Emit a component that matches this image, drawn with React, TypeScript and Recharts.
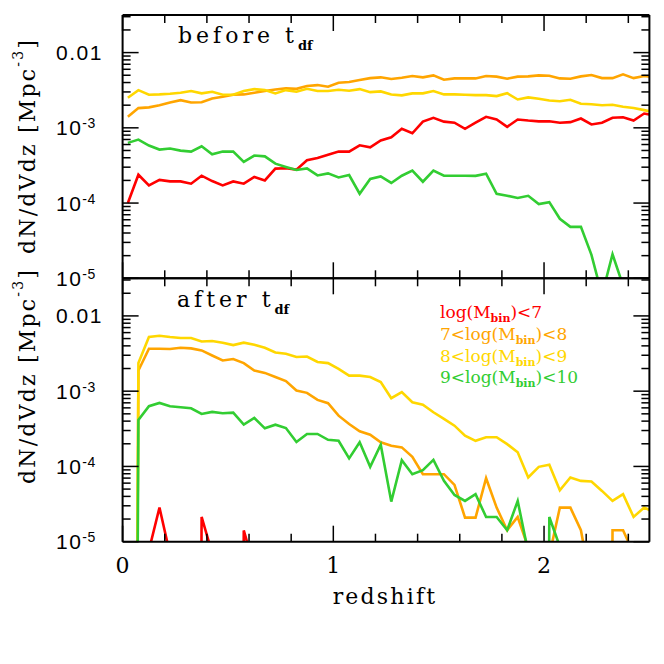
import React from 'react';
import { LineChart, Line, XAxis, YAxis } from 'recharts';

// log axis cannot hold 0, so empty bins use a tiny stand-in value
const ZERO = 1e-30;

const redshift = [
  0.025, 0.075, 0.125, 0.175, 0.225, 0.275, 0.325, 0.375, 0.425, 0.475,
  0.525, 0.575, 0.625, 0.675, 0.725, 0.775, 0.825, 0.875, 0.925, 0.975,
  1.025, 1.075, 1.125, 1.175, 1.225, 1.275, 1.325, 1.375, 1.425, 1.475,
  1.525, 1.575, 1.625, 1.675, 1.725, 1.775, 1.825, 1.875, 1.925, 1.975,
  2.025, 2.075, 2.125, 2.175, 2.225, 2.275, 2.325, 2.375, 2.425, 2.475, 2.525,
];

// before t_df
const beforeRed = [
  1.0e-4, 2.38e-4, 1.72e-4, 2.03e-4, 1.94e-4, 1.94e-4, 1.81e-4, 2.31e-4, 1.96e-4, 1.72e-4,
  1.94e-4, 1.81e-4, 2.22e-4, 2.0e-4, 2.87e-4, 2.9e-4, 2.78e-4, 3.7e-4, 3.98e-4, 4.4e-4,
  4.83e-4, 4.83e-4, 5.86e-4, 5.51e-4, 6.78e-4, 7.5e-4, 9.7e-4, 8.47e-4, 1.21e-3, 1.36e-3,
  1.21e-3, 1.17e-3, 9.7e-4, 1.17e-3, 1.4e-3, 1.29e-3, 1.03e-3, 1.29e-3, 1.25e-3, 1.22e-3,
  1.22e-3, 1.17e-3, 1.19e-3, 1.33e-3, 1.11e-3, 1.17e-3, 1.36e-3, 1.38e-3, 1.25e-3, 1.55e-3, 1.46e-3,
];
const beforeOrange = [
  1.4e-3, 1.83e-3, 1.87e-3, 2.0e-3, 2.17e-3, 2.33e-3, 2.17e-3, 2.19e-3, 2.46e-3, 2.59e-3,
  2.75e-3, 2.78e-3, 2.93e-3, 3.08e-3, 3.24e-3, 3.34e-3, 3.3e-3, 3.59e-3, 3.7e-3, 3.52e-3,
  3.98e-3, 4.06e-3, 4.31e-3, 4.58e-3, 4.69e-3, 4.45e-3, 4.64e-3, 4.88e-3, 4.69e-3, 4.98e-3,
  4.36e-3, 4.54e-3, 4.54e-3, 4.54e-3, 4.88e-3, 4.79e-3, 4.5e-3, 4.79e-3, 4.83e-3, 4.98e-3,
  4.93e-3, 4.54e-3, 4.5e-3, 4.83e-3, 5.03e-3, 4.58e-3, 4.58e-3, 5.14e-3, 4.58e-3, 4.88e-3, 4.73e-3,
];
const beforeYellow = [
  2.51e-3, 3.17e-3, 2.75e-3, 2.78e-3, 2.84e-3, 2.93e-3, 3.08e-3, 2.87e-3, 3.02e-3, 2.75e-3,
  2.75e-3, 3.08e-3, 3.27e-3, 3.17e-3, 2.87e-3, 3.17e-3, 3.02e-3, 3.31e-3, 3.08e-3, 3.08e-3,
  3.21e-3, 3.11e-3, 3.27e-3, 2.98e-3, 3.05e-3, 2.78e-3, 2.7e-3, 2.87e-3, 2.87e-3, 3.08e-3,
  2.78e-3, 2.78e-3, 2.75e-3, 2.72e-3, 2.72e-3, 2.64e-3, 2.89e-3, 2.38e-3, 2.54e-3, 2.44e-3,
  2.31e-3, 2.26e-3, 2.36e-3, 2.09e-3, 2.06e-3, 2.0e-3, 2.03e-3, 1.91e-3, 1.83e-3, 1.72e-3, 1.6e-3,
];
const beforeGreen = [
  6.31e-4, 6.98e-4, 5.81e-4, 5.14e-4, 5.3e-4, 4.98e-4, 4.83e-4, 5.69e-4, 4.45e-4, 4.83e-4,
  4.83e-4, 3.52e-4, 4.28e-4, 4.18e-4, 3.34e-4, 3.02e-4, 2.75e-4, 2.89e-4, 2.33e-4, 2.48e-4,
  2.19e-4, 2.36e-4, 1.33e-4, 2.09e-4, 2.26e-4, 1.85e-4, 2.31e-4, 2.7e-4, 1.92e-4, 2.7e-4,
  2.31e-4, 2.31e-4, 2.31e-4, 2.3e-4, 2.46e-4, 1.33e-4, 1.25e-4, 1.17e-4, 1.25e-4, 9.7e-5,
  1.03e-4, 6.18e-5, 4.83e-5, 4.83e-5, 2.05e-5, 6e-6, 2.09e-5, 8e-6, null, null, null,
];

// after t_df
const afterRed = [
  null, null, 7.7e-6, 2.84e-5, 6.8e-6, null, ZERO, 2.13e-5, 7e-6, null,
  ZERO, 1.41e-5, 4.6e-6, null, null, null, null, null, null, null,
  null, null, null, null, null, null, null, null, null, null,
  null, null, null, null, null, null, null, null, null, null,
  null, null, null, null, null, null, null, null, null, null, null,
];
const afterOrange = [
  ZERO, 1.88e-3, 3.66e-3, 3.66e-3, 3.63e-3, 3.78e-3, 3.7e-3, 3.48e-3, 2.98e-3, 2.56e-3,
  2.67e-3, 2.36e-3, 1.88e-3, 1.75e-3, 1.54e-3, 1.36e-3, 1.02e-3, 9.5e-4, 7.66e-4, 6.92e-4,
  4.73e-4, 3.66e-4, 2.93e-4, 2.64e-4, 2.09e-4, 1.88e-4, 1.79e-4, 1.34e-4, 7.89e-5, 7.89e-5,
  7.89e-5, 5.69e-5, 2.09e-5, 2.09e-5, 6.98e-5, 2.84e-5, 1.42e-5, 2.13e-5, 8.3e-6, 5e-6,
  6.5e-6, 2.84e-5, 2.84e-5, 1.42e-5, 2.5e-6, ZERO, 1.42e-5, 1.42e-5, 7e-6, null, null,
];
const afterYellow = [
  ZERO, 2.36e-3, 5.25e-3, 5.46e-3, 5.25e-3, 5.09e-3, 5.09e-3, 4.58e-3, 4.64e-3, 4.41e-3,
  4.1e-3, 4.41e-3, 4.14e-3, 3.78e-3, 3.27e-3, 3.14e-3, 2.84e-3, 2.89e-3, 2.44e-3, 2.36e-3,
  1.98e-3, 1.61e-3, 1.61e-3, 1.54e-3, 1.32e-3, 8.07e-4, 9.7e-4, 7.13e-4, 6.62e-4, 5.25e-4,
  4.28e-4, 3.48e-4, 2.56e-4, 2.19e-4, 2.44e-4, 2.44e-4, 1.98e-4, 1.54e-4, 7.13e-5, 9.88e-5,
  1.05e-4, 4.83e-5, 7.13e-5, 6.43e-5, 6.31e-5, 4.73e-5, 3.48e-5, 4.28e-5, 2.13e-5, 2.84e-5, 2.45e-5,
];
const afterGreen = [
  ZERO, 4.14e-4, 6.31e-4, 6.98e-4, 6.31e-4, 6.12e-4, 5.93e-4, 4.98e-4, 5.3e-4, 5.09e-4,
  5.19e-4, 3.59e-4, 4.4e-4, 3.21e-4, 3.59e-4, 3.24e-4, 2.11e-4, 2.7e-4, 2.7e-4, 2.26e-4,
  2.19e-4, 1.28e-4, 2.09e-4, 9.88e-5, 1.94e-4, 3.41e-5, 1.21e-4, 7.89e-5, 8.93e-5, 1.22e-4,
  6.43e-5, 4.18e-5, 3.48e-5, 4.28e-5, 2.13e-5, 2.13e-5, 1.42e-5, 3.48e-5, 7.2e-6, ZERO,
  2.13e-5, 8.6e-6, null, null, null, null, null, null, null, null, null,
];

const seriesKeys = ['red', 'orange', 'yellow', 'green'];
const seriesColors = ['#ff0000', '#ffa500', '#ffd700', '#32cd32'];
const legendPrefix = ['', '7<', '8<', '9<'];
const legendSuffix = ['<7', '<8', '<9', '<10'];

const xTicks = [0, 0.2, 0.4, 0.6, 0.8, 1, 1.2, 1.4, 1.6, 1.8, 2, 2.2, 2.4];
const xLabelValues = [0, 1, 2];
const yTicks = [
  1e-5, 2e-5, 3e-5, 4e-5, 5e-5, 6e-5, 7e-5, 8e-5, 9e-5,
  1e-4, 2e-4, 3e-4, 4e-4, 5e-4, 6e-4, 7e-4, 8e-4, 9e-4,
  1e-3, 2e-3, 3e-3, 4e-3, 5e-3, 6e-3, 7e-3, 8e-3, 9e-3,
  1e-2, 2e-2, 3e-2,
];
const yLabelValues = [1e-5, 1e-4, 1e-3, 1e-2];
const yLabelBase = ['10', '10', '10', '0.01'];
const yLabelExp = ['-5', '-4', '-3', ''];

const X_DOMAIN = [0, 2.5];
const Y_DOMAIN = [1e-5, 0.0316];

const beforeRows = redshift.map((z, i) => ({
  z, red: beforeRed[i], orange: beforeOrange[i], yellow: beforeYellow[i], green: beforeGreen[i],
}));
const afterRows = redshift.map((z, i) => ({
  z, red: afterRed[i], orange: afterOrange[i], yellow: afterYellow[i], green: afterGreen[i],
}));

const serif = 'DejaVu Serif';
const sans = 'Liberation Sans';

const XTick = (props: any) => {
  const { x, y, payload, side, labels } = props;
  const major = xLabelValues.includes(payload.value);
  const len = major ? 16 : 8;
  const dir = side === 'top' ? 1 : -1;
  return (
    <g>
      <line x1={x} x2={x} y1={y} y2={y + dir * len} stroke="#000" strokeWidth={1.5} />
      {labels && major && (
        <text x={x} y={y + 31} textAnchor="middle" fontFamily={serif} fontSize={22} fill="#000">
          {payload.value}
        </text>
      )}
    </g>
  );
};

const YTick = (props: any) => {
  const { x, y, payload, side } = props;
  const i = yLabelValues.indexOf(payload.value);
  const major = i >= 0;
  const len = major ? 16 : 8;
  const dir = side === 'left' ? 1 : -1;
  return (
    <g>
      <line x1={x} x2={x + dir * len} y1={y} y2={y} stroke="#000" strokeWidth={1.5} />
      {side === 'left' && major && (
        <text x={56} y={y + 7.5} fontFamily={sans} fontSize={21} letterSpacing={1.5} fill="#000">
          {yLabelBase[i]}
          {yLabelExp[i] && (
            <tspan fontSize={14} dy={-7} letterSpacing={0.5}>{yLabelExp[i]}</tspan>
          )}
        </text>
      )}
    </g>
  );
};

const axisLine = { stroke: '#000', strokeWidth: 2 };

// axes get 1px of room each (a 0px axis is not drawn), the margins take it back
const Panel = ({ rows, top, height, marginTop, marginBottom, xLabels }: any) => (
  <div style={{ position: 'absolute', left: 0, top }}>
    <LineChart
      width={664}
      height={height}
      data={rows}
      margin={{ top: marginTop - 1, right: 13.6, bottom: marginBottom - 1, left: 121.6 }}
    >
      <XAxis
        xAxisId="b" dataKey="z" type="number" domain={X_DOMAIN} allowDataOverflow
        ticks={xTicks} interval={0} height={1} tickSize={0} tickMargin={0}
        tickLine={false} axisLine={axisLine}
        tick={(p: any) => <XTick {...p} side="bottom" labels={xLabels} />}
      />
      <XAxis
        xAxisId="t" orientation="top" dataKey="z" type="number" domain={X_DOMAIN} allowDataOverflow
        ticks={xTicks} interval={0} height={1} tickSize={0} tickMargin={0}
        tickLine={false} axisLine={axisLine}
        tick={(p: any) => <XTick {...p} side="top" labels={false} />}
      />
      <YAxis
        yAxisId="l" type="number" scale="log" domain={Y_DOMAIN} allowDataOverflow
        ticks={yTicks} interval={0} width={1} tickSize={0} tickMargin={0}
        tickLine={false} axisLine={axisLine}
        tick={(p: any) => <YTick {...p} side="left" />}
      />
      <YAxis
        yAxisId="r" orientation="right" type="number" scale="log" domain={Y_DOMAIN} allowDataOverflow
        ticks={yTicks} interval={0} width={1} tickSize={0} tickMargin={0}
        tickLine={false} axisLine={axisLine}
        tick={(p: any) => <YTick {...p} side="right" />}
      />
      {seriesKeys.map((k, i) => (
        <Line
          key={k}
          xAxisId="b"
          yAxisId="l"
          dataKey={k}
          stroke={seriesColors[i]}
          strokeWidth={2.6}
          dot={false}
          activeDot={false}
          connectNulls={false}
          isAnimationActive={false}
        />
      ))}
    </LineChart>
  </div>
);

const YTitle = ({ cx, cy }: { cx: number; cy: number }) => (
  <text
    x={cx} y={cy} transform={`rotate(-90 ${cx} ${cy})`} textAnchor="middle"
    fontFamily={serif} fontSize={22} letterSpacing={2.2} fill="#000" dominantBaseline="central"
  >
    dN/dVdz [Mpc<tspan fontSize={14} dy={-9}>-3</tspan><tspan dy={9}>]</tspan>
  </text>
);

const PanelTitle = ({ x, y, word }: { x: number; y: number; word: string }) => (
  <text x={x} y={y} fontFamily={serif} fontSize={22} letterSpacing={4} fill="#000">
    {word} t<tspan fontSize={13} fontWeight="bold" dy={7} letterSpacing={0}>df</tspan>
  </text>
);

export default function App() {
  return (
    <div style={{ position: 'absolute', left: 0, top: 0, width: 664, height: 664, background: '#fff' }}>
      <Panel rows={beforeRows} top={0} height={300} marginTop={15} marginBottom={21.7} xLabels={false} />
      <Panel rows={afterRows} top={260} height={360} marginTop={18.3} marginBottom={78.3} xLabels />
      <svg width={664} height={664} style={{ position: 'absolute', left: 0, top: 0, pointerEvents: 'none' }}>
        <PanelTitle x={178} y={43} word="before" />
        <PanelTitle x={177} y={307} word="after" />
        <YTitle cx={27} cy={146} />
        <YTitle cx={27} cy={376} />
        <text x={385} y={604} textAnchor="middle" fontFamily={serif} fontSize={22} letterSpacing={2.2} fill="#000">
          redshift
        </text>
        {seriesKeys.map((k, i) => (
          <text key={k} x={440} y={317.7 + i * 21.9} fontFamily={serif} fontSize={17} fill={seriesColors[i]}>
            {legendPrefix[i]}log(M<tspan fontSize={11} fontWeight="bold" dy={4}>bin</tspan>
            <tspan dy={-4}>){legendSuffix[i]}</tspan>
          </text>
        ))}
      </svg>
    </div>
  );
}
